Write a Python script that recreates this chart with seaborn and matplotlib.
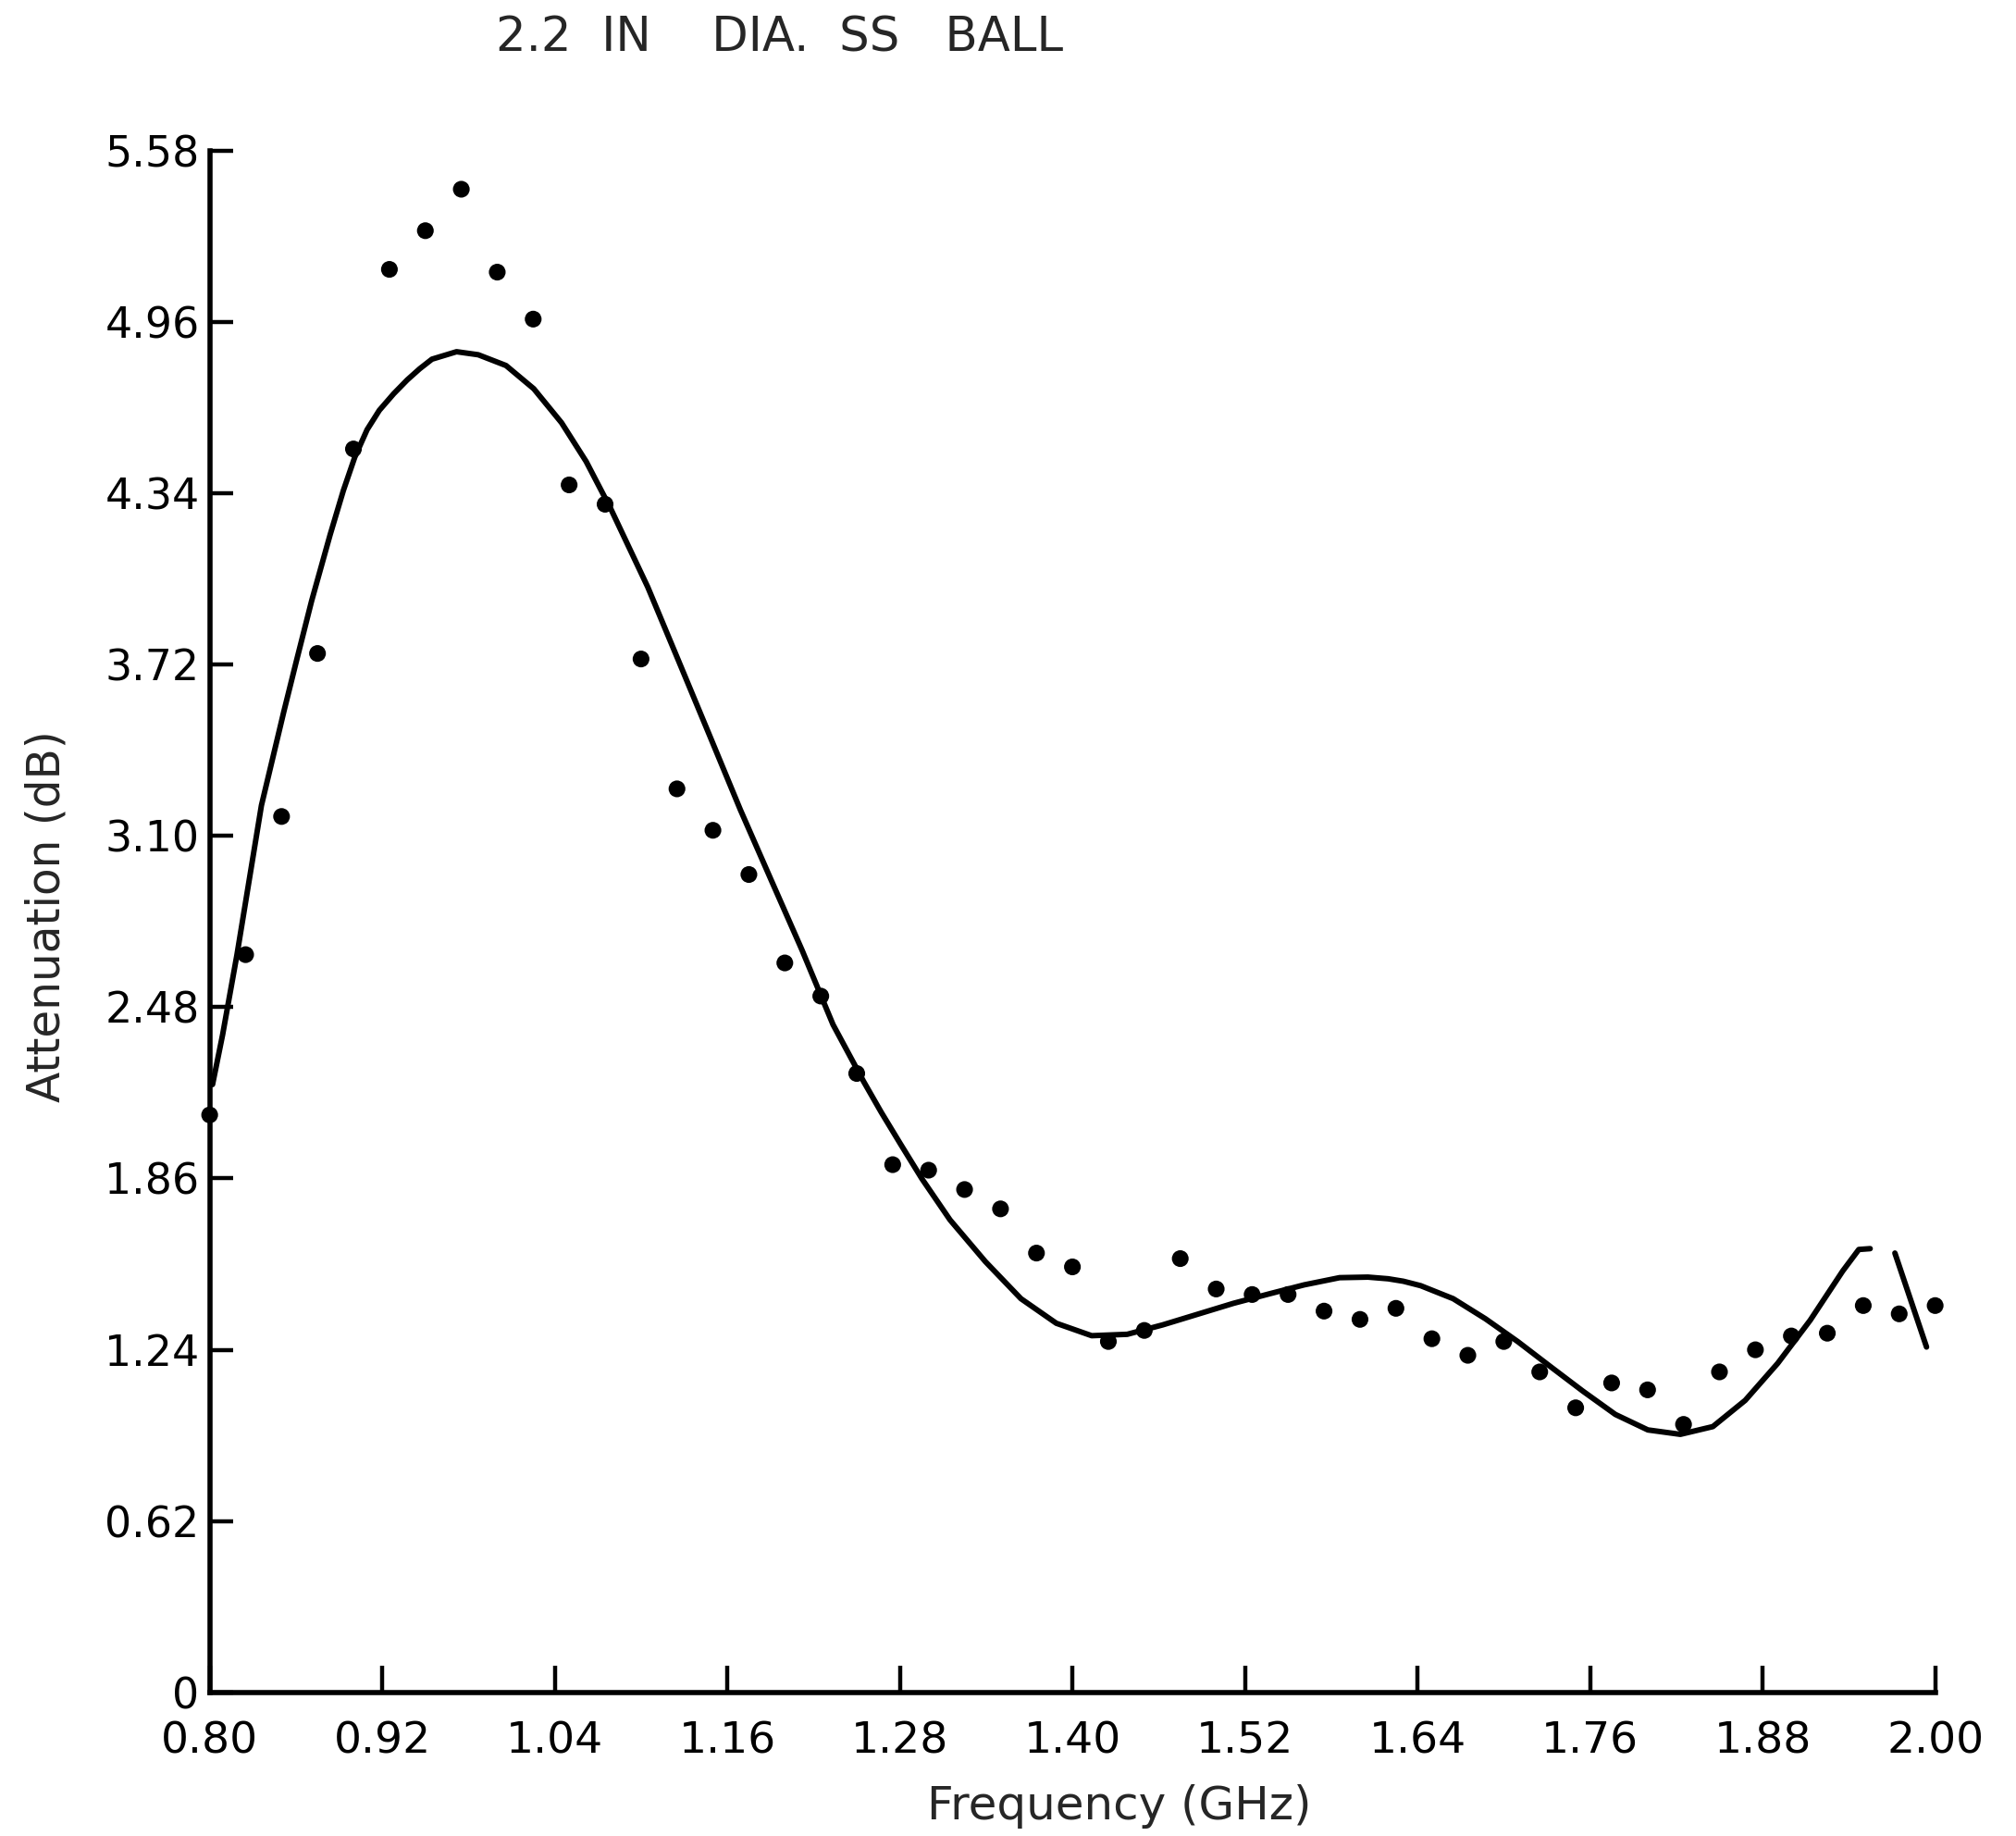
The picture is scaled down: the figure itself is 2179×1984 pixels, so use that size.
import numpy as np
import pandas as pd
import matplotlib
matplotlib.use("Agg")
import matplotlib.pyplot as plt
import seaborn as sns

# Measured points (frequency in GHz, attenuation in dB)
meas_freq = [0.800, 0.825, 0.850, 0.875, 0.900, 0.925, 0.950, 0.975, 1.000, 1.025,
             1.050, 1.075, 1.100, 1.125, 1.150, 1.175, 1.200, 1.225, 1.250, 1.275,
             1.300, 1.325, 1.350, 1.375, 1.400, 1.425, 1.450, 1.475, 1.500, 1.525,
             1.550, 1.575, 1.600, 1.625, 1.650, 1.675, 1.700, 1.725, 1.750, 1.775,
             1.800, 1.825, 1.850, 1.875, 1.900, 1.925, 1.950, 1.975, 2.000]
meas_att = [2.09, 2.67, 3.17, 3.76, 4.50, 5.15, 5.29, 5.44, 5.14, 4.97,
            4.37, 4.30, 3.74, 3.27, 3.12, 2.96, 2.64, 2.52, 2.24, 1.91,
            1.89, 1.82, 1.75, 1.59, 1.54, 1.27, 1.31, 1.57, 1.46, 1.44,
            1.44, 1.38, 1.35, 1.39, 1.28, 1.22, 1.27, 1.16, 1.03, 1.12,
            1.095, 0.97, 1.16, 1.24, 1.29, 1.30, 1.40, 1.37, 1.40]

# Theoretical curve, traced (two pieces: the scan shows a break near the last peak)
curve_freq_a = [0.802, 0.809, 0.819, 0.836, 0.8516, 0.8602, 0.8709, 0.8838, 0.893, 0.9009,
                0.9095, 0.918, 0.928, 0.9374, 0.946, 0.9546, 0.9717, 0.9868, 1.0061, 1.0254,
                1.0447, 1.0618, 1.079, 1.1047, 1.1262, 1.1477, 1.1691, 1.1905,
                1.212, 1.2335, 1.2549, 1.267, 1.2804, 1.2952, 1.3149, 1.3395, 1.3642, 1.3888,
                1.4134, 1.4381, 1.4627, 1.4873, 1.5119, 1.5366, 1.5612, 1.5858, 1.6055, 1.6196,
                1.6302, 1.6422, 1.6518, 1.6648, 1.6873, 1.7099, 1.7325, 1.7551, 1.7776, 1.8002,
                1.8228, 1.8454, 1.8679, 1.8905, 1.9131, 1.9357, 1.9469, 1.9548]
curve_att_a = [2.20, 2.38, 2.67, 3.21, 3.55, 3.73, 3.95, 4.19, 4.35, 4.47,
               4.57, 4.64, 4.70, 4.75, 4.79, 4.825, 4.852, 4.841, 4.802, 4.718,
               4.595, 4.455, 4.283, 4.00, 3.732, 3.463, 3.194, 2.940,
               2.686, 2.417, 2.21, 2.10, 1.985, 1.86, 1.71, 1.559, 1.425, 1.336,
               1.291, 1.296, 1.330, 1.369, 1.408, 1.442, 1.475, 1.501, 1.503, 1.497,
               1.488, 1.472, 1.452, 1.425, 1.352, 1.269, 1.179, 1.090, 1.006, 0.950,
               0.934, 0.962, 1.057, 1.191, 1.347, 1.525, 1.603, 1.606]
curve_freq_b = [1.972, 1.994]
curve_att_b = [1.59, 1.25]

x_ticks = [0.80, 0.92, 1.04, 1.16, 1.28, 1.40, 1.52, 1.64, 1.76, 1.88, 2.00]
x_tick_labels = ["0.80", "0.92", "1.04", "1.16", "1.28", "1.40", "1.52", "1.64",
                 "1.76", "1.88", "2.00"]
y_ticks = [0, 0.62, 1.24, 1.86, 2.48, 3.10, 3.72, 4.34, 4.96, 5.58]
y_tick_labels = ["0", "0.62", "1.24", "1.86", "2.48", "3.10", "3.72", "4.34",
                 "4.96", "5.58"]

sns.set_theme(style="white")
plt.rcParams["font.family"] = ["DejaVu Sans"]

meas_df = pd.DataFrame({"freq": meas_freq, "att": meas_att})
curve_df = pd.concat([
    pd.DataFrame({"freq": curve_freq_a, "att": curve_att_a, "seg": "a"}),
    pd.DataFrame({"freq": curve_freq_b, "att": curve_att_b, "seg": "b"}),
], ignore_index=True)

fig = plt.figure(figsize=(21.79, 19.84), dpi=100)
ax = fig.add_axes([0.1040, 0.0782, 0.8559, 0.8398])

sns.lineplot(data=curve_df, x="freq", y="att", units="seg", estimator=None,
             sort=False, color="black", linewidth=4.3, ax=ax)
sns.scatterplot(data=meas_df, x="freq", y="att", color="black", s=170,
                edgecolor="none", ax=ax, clip_on=False, zorder=5)

ax.set_xlim(0.80, 2.00)
ax.set_ylim(0, 5.58)
ax.set_xticks(x_ticks)
ax.set_xticklabels(x_tick_labels)
ax.set_yticks(y_ticks)
ax.set_yticklabels(y_tick_labels)

for side in ["top", "right"]:
    ax.spines[side].set_visible(False)
for side in ["left", "bottom"]:
    ax.spines[side].set_linewidth(4)
    ax.spines[side].set_color("black")

ax.tick_params(axis="x", direction="in", length=21, width=3.2, pad=22,
               labelsize=34, colors="black", bottom=True)
ax.tick_params(axis="y", direction="in", length=18, width=3.2, pad=8,
               labelsize=33, colors="black", left=True)

ax.set_xlabel("")
ax.set_ylabel("")
fig.text(0.555, 0.016, "Frequency (GHz)", ha="center", va="center", fontsize=36)
fig.text(0.023, 0.501, "Attenuation (dB)", ha="center", va="center",
         rotation=90, fontsize=35)
fig.text(0.3866, 0.979, "2.2  IN    DIA.  SS   BALL", ha="center", va="center",
         fontsize=37)

fig.savefig("out.png", dpi=100, facecolor="white")
